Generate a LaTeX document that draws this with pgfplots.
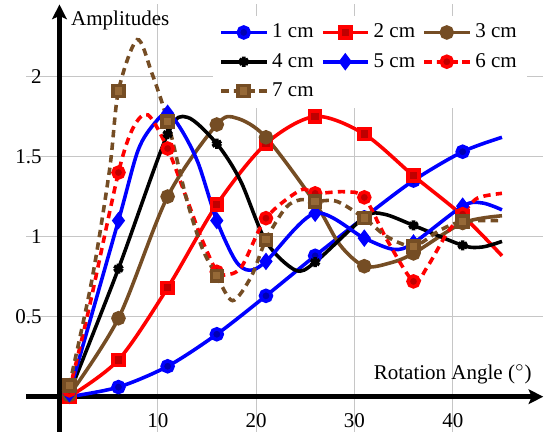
\documentclass[border=0pt]{standalone}
\usepackage{fontspec}
\setmainfont{Liberation Serif}
\usepackage{pgfplots}
\pgfplotsset{compat=1.18}
\usetikzlibrary{arrows.meta}
\definecolor{cbrown}{RGB}{117,77,36}
\definecolor{cbrownl}{RGB}{150,105,55}

\begin{document}
\begin{tikzpicture}
\begin{axis}[
  anchor=origin, at={(0pt,0pt)},
  x=4.68pt, y=76.2pt,
  xmin=-3.4, xmax=49.2, ymin=-0.22, ymax=2.45,
  axis lines=middle,
  axis line style={line width=2.2pt, -{Stealth[length=7pt,width=7pt,inset=1.5pt]}},
  xtick={10,20,30,40}, ytick={0.5,1,1.5,2},
  grid=major, grid style={gray!45, line width=0.5pt},
  major tick length=0pt,
  /pgf/number format/assume math mode=true,
  xticklabel style={yshift=-4.5pt},
  yticklabel style={xshift=-5pt},
  xlabel={Rotation Angle ($^\circ$)},
  ylabel={Amplitudes},
  every axis x label/.style={at={(axis description cs:0.992,0.135)}, anchor=east},
  every axis y label/.style={at={(axis description cs:0.073,0.9625)}, anchor=west},
  legend style={at={(axis description cs:0.361,0.975)}, anchor=north west,
    draw=none, fill=white, legend columns=3, row sep=1.8pt,
    /tikz/every even column/.append style={column sep=1.5pt}},
  legend image code/.code={\draw[#1, mark indices={2}] plot coordinates {(0pt,0pt)(10.7pt,0pt)(21.4pt,0pt)};},
  every axis plot/.append style={line width=1.7pt, smooth},
]
% 1 cm
\addplot[color=blue, mark=*, mark size=2.6pt, mark options={fill=blue!70!black},
  mark indices={1,2,3,4,5,6,7,8,9}] coordinates {
 (1,0) (6,0.06) (11,0.19) (16,0.39) (21,0.63) (26,0.88) (31,1.12) (36,1.35) (41,1.53) (45,1.62)
};
\addlegendentry{1 cm}
% 2 cm
\addplot[color=red, mark=square*, mark size=2.6pt, mark options={fill=red!75!black},
  mark indices={1,2,3,4,5,6,7,8,9}] coordinates {
 (1,0) (6,0.23) (11,0.68) (16,1.20) (21,1.58) (26,1.75) (31,1.64) (36,1.38) (41,1.13) (45,0.88)
};
\addlegendentry{2 cm}
% 3 cm
\addplot[color=cbrown, mark=*, mark size=2.6pt,
  mark indices={1,2,3,4,6,7,9,11,12}] coordinates {
 (1,0.01) (6,0.49) (11,1.25) (16,1.70) (18,1.74) (21,1.62) (26,1.21) (28.5,0.95)
 (31,0.815) (33.6,0.835) (36,0.895) (41,1.085) (45,1.13)
};
\addlegendentry{3 cm}
% 4 cm
\addplot[color=black, mark=asterisk, mark size=2.4pt,
  mark indices={1,2,3,5,7,9,10,12,13}] coordinates {
 (1,0.02) (6,0.80) (11,1.64) (13,1.745) (16,1.58) (18.4,1.35) (21,0.97) (24,0.79)
 (26,0.84) (31,1.12) (33,1.14) (36,1.07) (41,0.945) (43,0.935) (45,0.97)
};
\addlegendentry{4 cm}
% 5 cm
\addplot[color=blue, mark=diamond*, mark size=2.8pt,
  mark indices={1,2,5,8,11,12,13,15,16}] coordinates {
 (1,0.02) (6,1.10) (8,1.54) (9.7,1.71) (11,1.77) (12.4,1.667) (14.1,1.46) (16,1.10)
 (17.9,0.85) (19.3,0.79) (21,0.845) (26,1.146) (31,0.99) (34,0.92) (36,0.96)
 (41,1.19) (43,1.21) (45,1.167)
};
\addlegendentry{5 cm}
% 6 cm
\addplot[color=red, dash pattern=on 3.5pt off 2.5pt, mark=*, mark size=2.6pt, mark options={solid, fill=red!75!black},
  mark indices={1,3,6,9,12,14,16,18,21}] coordinates {
 (1,0.04) (3,0.55) (6,1.40) (7.5,1.68) (9,1.76) (11,1.55) (13.1,1.21) (14.5,0.98)
 (16,0.78) (16.8,0.76) (18.5,0.81) (21,1.115) (24.5,1.29) (26,1.27) (29,1.28)
 (31,1.245) (33.3,0.98) (36,0.72) (37.4,0.81) (39.4,1.02) (41,1.14) (42.5,1.24) (45,1.27)
};
\addlegendentry{6 cm}
% 7 cm
\addplot[color=cbrown, dash pattern=on 3.5pt off 2.5pt, mark=square*, mark size=2.6pt, mark options={solid, fill=cbrownl},
  mark indices={1,4,7,10,13,16,18,20,22}] coordinates {
 (1,0.07) (3.3,0.73) (5.1,1.42) (6,1.91) (7.9,2.23) (9.4,2.02) (11,1.72) (12.9,1.24)
 (14.5,0.93) (16,0.755) (17.6,0.60) (19.5,0.75) (21,0.98) (23,1.18) (24.5,1.23)
 (26,1.22) (28.2,1.22) (31,1.115) (33.3,1.0) (36,0.94) (38.7,1.04) (41,1.094) (45,1.10)
};
\addlegendentry{7 cm}
\end{axis}
\pgfresetboundingbox
\useasboundingbox (-28.3pt,-18.7pt) rectangle (232.5pt,188.8pt);
\end{tikzpicture}
\end{document}
